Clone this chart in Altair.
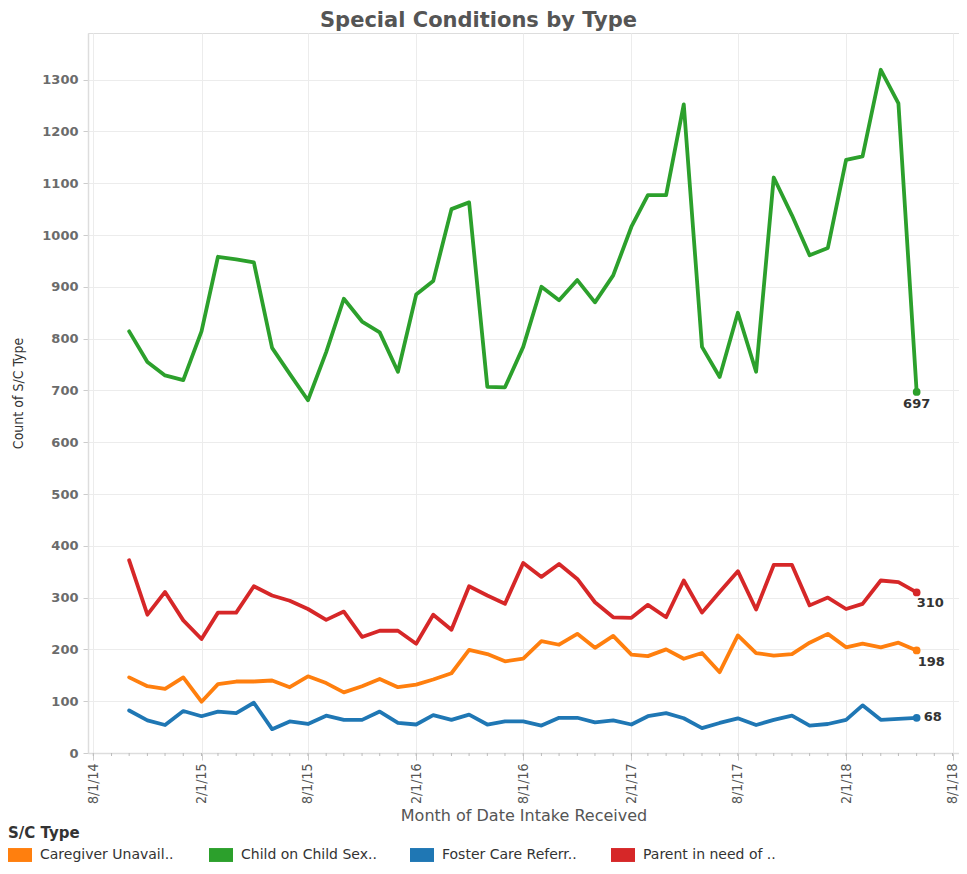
import altair as alt
import pandas as pd

# ---- data -------------------------------------------------------------
types = ["Caregiver Unavail..", "Child on Child Sex..", "Foster Care Referr..", "Parent in need of .."]
colors = ["#ff7f0e", "#2ca02c", "#1f77b4", "#d62728"]

months = pd.date_range("2014-10-01", periods=45, freq="MS")

caregiver = [146, 129, 124, 146, 99, 133, 138, 138, 140, 127, 148, 135, 117, 129, 143,
             127, 132, 142, 154, 199, 191, 177, 182, 216, 209, 230, 203, 226, 190, 187,
             200, 182, 193, 156, 227, 193, 188, 191, 213, 230, 204, 211, 204, 213, 198]
child = [814, 755, 729, 720, 814, 958, 953, 947, 782, 732, 681, 774, 877, 833, 812,
         736, 885, 911, 1050, 1063, 707, 706, 784, 900, 874, 913, 870, 922, 1016, 1077,
         1077, 1252, 784, 726, 850, 736, 1111, 1038, 961, 975, 1145, 1152, 1319, 1254, 697]
foster = [82, 63, 54, 81, 71, 80, 77, 97, 46, 61, 56, 72, 64, 64, 80,
          58, 55, 73, 64, 74, 55, 61, 61, 53, 68, 68, 59, 63, 55, 71,
          77, 67, 48, 58, 67, 54, 64, 72, 53, 56, 64, 92, 64, 66, 68]
parent = [372, 267, 311, 256, 220, 271, 271, 322, 304, 294, 278, 257, 273, 224, 236,
          236, 211, 267, 238, 322, 304, 288, 367, 340, 365, 336, 291, 262, 261, 286,
          262, 333, 271, 311, 351, 277, 363, 363, 285, 300, 278, 288, 333, 330, 310]

tick_dates = ["2014-08-01", "2015-02-01", "2015-08-01", "2016-02-01", "2016-08-01",
              "2017-02-01", "2017-08-01", "2018-02-01", "2018-08-01"]
y_ticks = list(range(0, 1400, 100))
minor_months = pd.date_range("2014-08-01", "2018-08-01", freq="MS")

rows = []
for t, vals in zip(types, [caregiver, child, foster, parent]):
    for m, v in zip(months, vals):
        rows.append({"month": m, "type": t, "count": v})
df = pd.DataFrame(rows)
last = df[df["month"] == months[-1]]
minor_df = pd.DataFrame({"month": minor_months})


def dt(s):
    y, m, d = (int(p) for p in s.split("-"))
    return alt.DateTime(year=y, month=m, date=d)


W, H = 871, 720
FONT = "DejaVu Sans"
NARROW = "Liberation Sans Narrow, DejaVu Sans Condensed, Liberation Sans"

x_scale = alt.Scale(domain=[dt("2014-07-23"), dt("2018-08-12")])
y_scale = alt.Scale(domain=[0, 1390], nice=False)
color_scale = alt.Scale(domain=types, range=colors)

x_axis = alt.Axis(
    values=[dt(s) for s in tick_dates], format="%-m/%-d/%y", labelAngle=-90,
    labelFont=NARROW, labelFontSize=14, labelColor="#555", labelPadding=3,
    tickSize=7, tickColor="#ccc", domainColor="#ddd", domainWidth=1.5,
    grid=True, gridColor="#ececec",
    title="Month of Date Intake Received", titleFont=FONT, titleFontSize=16,
    titleFontWeight="normal", titleColor="#555", titleY=62, titleBaseline="middle",
)
y_axis = alt.Axis(
    values=y_ticks, format="d", labelFont=FONT, labelFontSize=13, labelFontWeight="bold",
    labelColor="#6b6b6b", labelPadding=5, tickSize=5, tickColor="#ccc",
    domainColor="#ddd", domainWidth=1.5, grid=True, gridColor="#ececec",
    title="Count of S/C Type", titleFont=NARROW, titleFontSize=14,
    titleFontWeight="normal", titleColor="#333", titleX=-63,
)

legend = alt.Legend(
    title="S/C Type", orient="none", legendX=-80, legendY=793,
    direction="horizontal", columns=4, columnPadding=33, gridAlign="all",
    symbolType="M-1,-0.58H1V0.58H-1Z", symbolSize=576, symbolStrokeWidth=0,
    symbolOpacity=1,
    labelFont=FONT, labelFontSize=14, labelColor="#333", labelOffset=8,
    titleFont=FONT, titleFontSize=15, titleFontWeight="bold", titleColor="#333",
    titlePadding=2,
)

base = alt.Chart(df)

lines = base.mark_line(strokeWidth=3.8, strokeJoin="round", strokeCap="round").encode(
    x=alt.X("month:T", scale=x_scale, axis=x_axis),
    y=alt.Y("count:Q", scale=y_scale, axis=y_axis),
    color=alt.Color("type:N", scale=color_scale, legend=legend),
    detail="type:N",
)

minor = alt.Chart(minor_df).mark_rule(color="#bbb", strokeWidth=1).encode(
    x=alt.X("month:T", scale=x_scale),
    y=alt.value(H), y2=alt.value(H + 3),
)

dots = alt.Chart(last).mark_circle(size=60, opacity=1).encode(
    x=alt.X("month:T", scale=x_scale),
    y=alt.Y("count:Q", scale=y_scale),
    color=alt.Color("type:N", scale=color_scale, legend=legend),
)

lab_style = dict(font=FONT, fontSize=13, fontWeight="bold", color="#333")


def end_label(t, **kw):
    return alt.Chart(last[last["type"] == t]).mark_text(**lab_style, **kw).encode(
        x=alt.X("month:T", scale=x_scale),
        y=alt.Y("count:Q", scale=y_scale),
        text="count:Q",
    )


labels = [
    end_label(types[1], align="center", baseline="middle", dy=12),
    end_label(types[3], align="left", baseline="middle", dx=0, dy=11),
    end_label(types[0], align="left", baseline="middle", dx=1, dy=12),
    end_label(types[2], align="left", baseline="middle", dx=7, dy=-1),
]

chart = alt.layer(minor, dots, lines, *labels).properties(
    width=W, height=H,
    title=alt.TitleParams(
        "Special Conditions by Type", anchor="start", frame="group", dx=232,
        dy=23, offset=4, baseline="bottom", font=FONT, fontSize=21, fontWeight="bold",
        color="#555",
    ),
    autosize=alt.AutoSizeParams(type="none"),
    padding={"left": 80, "top": 25, "right": 0, "bottom": 113},
).configure_view(stroke="#ddd").configure(background="white")

chart.save("out.html", embed_options={"renderer": "svg", "actions": False})
